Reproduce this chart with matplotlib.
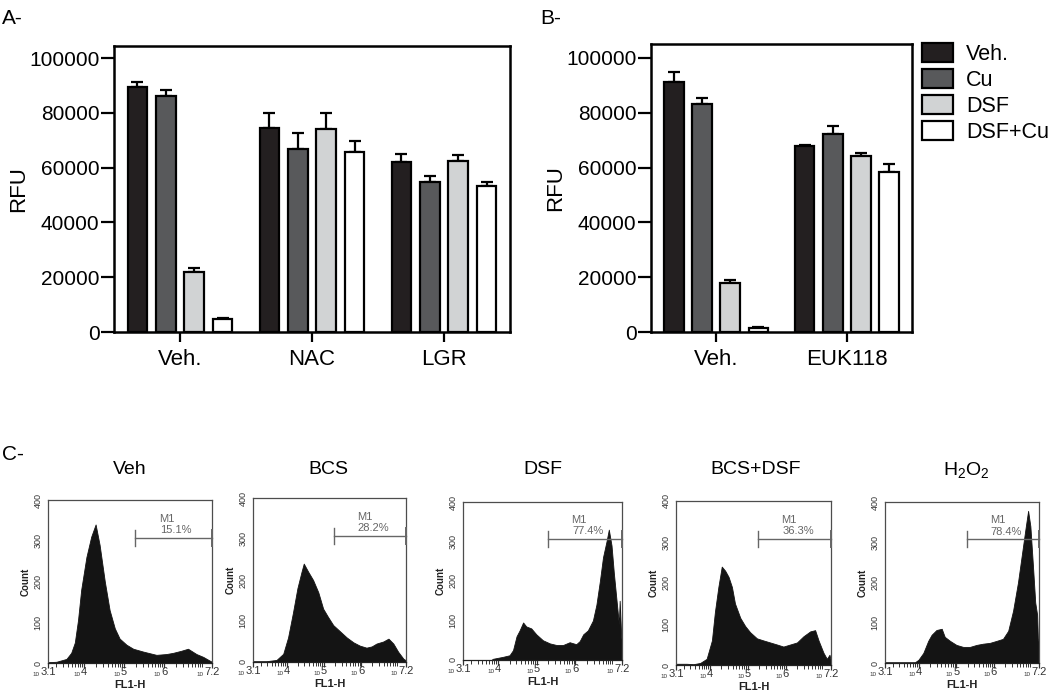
import numpy as np
import matplotlib
matplotlib.use('Agg')
import matplotlib.pyplot as plt
from matplotlib import font_manager
from matplotlib.ticker import FixedLocator, LogLocator, NullFormatter
from matplotlib.patches import Patch

# ---------------- data ----------------
series = ['Veh.', 'Cu', 'DSF', 'DSF+Cu']
bar_colors = ['#231f20', '#58595b', '#d1d3d4', '#ffffff']

a_groups = ['Veh.', 'NAC', 'LGR']
a_veh = [89500, 74300, 62200]
a_cu = [86200, 66800, 54900]
a_dsf = [22000, 74100, 62400]
a_dsfcu = [4700, 65600, 53300]
a_err_veh = [1600, 5500, 2800]
a_err_cu = [2000, 5700, 2100]
a_err_dsf = [1500, 5700, 2200]
a_err_dsfcu = [300, 4200, 1300]

b_groups = ['Veh.', 'EUK118']
b_veh = [91300, 68000]
b_cu = [83300, 72100]
b_dsf = [17800, 64200]
b_dsfcu = [1600, 58500]
b_err_veh = [3700, 400]
b_err_cu = [2200, 2900]
b_err_dsf = [1200, 1000]
b_err_dsfcu = [200, 2900]

hist_titles = ['Veh', 'BCS', 'DSF', 'BCS+DSF', r'H$_2$O$_2$']
hist_pct = ['15.1%', '28.2%', '77.4%', '36.3%', '78.4%']

h1_log = [3.10, 3.31, 3.56, 3.68, 3.77, 3.85, 3.93, 4.06, 4.18, 4.29, 4.39, 4.52, 4.64, 4.77,
          4.89, 5.06, 5.23, 5.48, 5.81, 6.06, 6.23, 6.43, 6.60, 6.81, 6.98, 7.14, 7.20]
h1_cnt = [2, 3, 10, 25, 50, 105, 180, 260, 310, 340, 290, 200, 130, 85,
          60, 45, 35, 28, 20, 22, 25, 30, 35, 22, 15, 6, 3]

h2_log = [3.10, 3.46, 3.73, 3.91, 4.04, 4.17, 4.29, 4.40, 4.46, 4.58, 4.71, 4.85, 4.98, 5.11,
          5.25, 5.43, 5.61, 5.79, 5.96, 6.14, 6.28, 6.41, 6.59, 6.73, 6.86, 6.99, 7.13, 7.20]
h2_cnt = [2, 2, 5, 20, 60, 120, 180, 220, 240, 220, 200, 170, 130, 110,
          90, 75, 60, 48, 40, 35, 38, 45, 50, 57, 45, 25, 8, 4]

h3_log = [3.10, 3.83, 3.87, 4.13, 4.30, 4.39, 4.48, 4.56, 4.65, 4.73, 4.86, 4.99, 5.16, 5.34,
          5.51, 5.68, 5.85, 6.02, 6.11, 6.20, 6.32, 6.45, 6.54, 6.63, 6.71, 6.80, 6.86, 6.93,
          6.99, 7.06, 7.12, 7.14, 7.18, 7.20]
h3_cnt = [0, 0, 3, 8, 12, 25, 60, 75, 95, 85, 80, 65, 50, 42,
          38, 38, 45, 40, 48, 65, 75, 100, 140, 200, 260, 300, 330, 290,
          220, 150, 90, 150, 60, 40]

h4_log = [3.10, 3.38, 3.56, 3.74, 3.91, 4.05, 4.13, 4.22, 4.31, 4.40, 4.49, 4.58, 4.66, 4.80,
          4.93, 5.06, 5.24, 5.41, 5.59, 5.77, 5.94, 6.12, 6.30, 6.47, 6.65, 6.78, 6.87, 7.00,
          7.09, 7.16, 7.20]
h4_cnt = [3, 3, 2, 5, 15, 60, 130, 190, 240, 230, 215, 190, 150, 115,
          95, 80, 65, 60, 55, 50, 45, 50, 55, 70, 82, 85, 60, 30,
          15, 25, 10]

h5_log = [3.10, 3.90, 3.99, 4.12, 4.25, 4.34, 4.47, 4.61, 4.69, 4.83, 5.00, 5.18, 5.36, 5.54,
          5.71, 5.89, 6.07, 6.24, 6.38, 6.51, 6.64, 6.76, 6.85, 6.91, 6.97, 7.04, 7.10, 7.15,
          7.17, 7.20]
h5_cnt = [2, 2, 8, 25, 55, 70, 82, 85, 65, 55, 45, 40, 40, 45,
          48, 50, 55, 60, 80, 130, 200, 280, 340, 378, 340, 240, 150, 120,
          60, 50]

hist_logs = [h1_log, h2_log, h3_log, h4_log, h5_log]
hist_cnts = [h1_cnt, h2_cnt, h3_cnt, h4_cnt, h5_cnt]
tick_exps = ['3.1', '4', '5', '6', '7.2']
gate_start_log = 5.28
gate_level = 307

# ---------------- fonts ----------------
avail = {f.name for f in font_manager.fontManager.ttflist}
main_font = 'Liberation Sans' if 'Liberation Sans' in avail else 'DejaVu Sans'
narrow_font = 'Liberation Sans Narrow' if 'Liberation Sans Narrow' in avail else main_font
plt.rcParams['font.family'] = [main_font, 'DejaVu Sans']
plt.rcParams['mathtext.fontset'] = 'custom'
plt.rcParams['mathtext.rm'] = main_font
plt.rcParams['mathtext.it'] = main_font
plt.rcParams['mathtext.bf'] = main_font

W, H = 1050, 691
fig = plt.figure(figsize=(W / 100, H / 100), dpi=100)


def box(l, t, r, b):
    return [l / W, 1 - b / H, (r - l) / W, (b - t) / H]


def bar_panel(ax, groups, vals, errs, ytop):
    x = np.arange(len(groups))
    width = 0.15
    step = 0.215
    for i, (v, e) in enumerate(zip(vals, errs)):
        off = (i - 1.5) * step
        ax.bar(x + off, v, width, color=bar_colors[i], edgecolor='black', linewidth=1.6, zorder=3)
        ax.errorbar(x + off, v, yerr=[np.zeros(len(v)), e], fmt='none', ecolor='black',
                    elinewidth=1.6, capsize=4.5, capthick=1.6, zorder=2)
    ax.set_xlim(-0.5, len(groups) - 0.5)
    ax.set_ylim(0, ytop)
    ax.set_yticks([0, 20000, 40000, 60000, 80000, 100000])
    ax.set_yticklabels(['0', '20000', '40000', '60000', '80000', '100000'])
    ax.set_xticks(x)
    ax.set_xticklabels(groups)
    for s in ax.spines.values():
        s.set_linewidth(1.8)
    ax.tick_params(axis='y', length=9.5, width=1.6, labelsize=15, pad=1)
    ax.tick_params(axis='x', length=7.5, width=1.6, labelsize=16, pad=5)
    ax.set_ylabel('RFU', fontsize=16, labelpad=0)


axA = fig.add_axes(box(114, 46, 510, 332))
bar_panel(axA, a_groups, [a_veh, a_cu, a_dsf, a_dsfcu],
          [a_err_veh, a_err_cu, a_err_dsf, a_err_dsfcu], 104400)
axB = fig.add_axes(box(651, 44, 912, 332))
bar_panel(axB, b_groups, [b_veh, b_cu, b_dsf, b_dsfcu],
          [b_err_veh, b_err_cu, b_err_dsf, b_err_dsfcu], 105100)

handles = [Patch(facecolor=c, edgecolor='black', linewidth=1.6) for c in bar_colors]
fig.legend(handles, series, loc='upper left', bbox_to_anchor=(922 / W, 1 - 43 / H),
           frameon=False, fontsize=15.5, handlelength=1.45, handleheight=0.95,
           handletextpad=0.6, labelspacing=0.2, borderpad=0, borderaxespad=0)

fig.text(2 / W, 1 - 19 / H, 'A-', fontsize=15, va='center', ha='left')
fig.text(540 / W, 1 - 19 / H, 'B-', fontsize=15, va='center', ha='left')
fig.text(2 / W, 1 - 455 / H, 'C-', fontsize=15, va='center', ha='left', family=[narrow_font, 'DejaVu Sans'])

# ---------------- histograms ----------------
hist_boxes = [(48, 500, 212, 663), (253, 498, 406, 662), (463, 502, 622, 660),
              (676, 501, 831, 665), (885, 502, 1039, 663)]
title_x = [130, 328, 543, 756, 966]
frame_col = '#4d4d4d'
tick_logs = [3.1, 4, 5, 6, 7.2]
char_w = {'.': 0.278}

for k in range(5):
    l, t, r, b = hist_boxes[k]
    ax = fig.add_axes(box(l, t, r, b))
    xs = 10 ** np.array(hist_logs[k])
    ax.fill_between(xs, hist_cnts[k], 0, color='#141414', linewidth=0.6, edgecolor='#141414')
    ax.set_xscale('log')
    ax.set_xlim(10 ** 3.1, 10 ** 7.2)
    ax.set_ylim(0, 400)
    ax.xaxis.set_major_locator(FixedLocator([10 ** v for v in tick_logs]))
    ax.xaxis.set_major_formatter(NullFormatter())
    ax.xaxis.set_minor_locator(LogLocator(base=10, subs=np.arange(2, 10), numticks=60))
    ax.xaxis.set_minor_formatter(NullFormatter())
    ax.set_yticks([0, 100, 200, 300, 400])
    ax.set_yticklabels(['0', '100', '200', '300', '400'], rotation=90, va='center')
    ax.tick_params(axis='y', length=0, labelsize=6.5, pad=4, colors='#333333')
    ax.tick_params(axis='x', which='major', length=3.5, width=0.9, colors='#333333')
    ax.tick_params(axis='x', which='minor', length=3, width=0.7, colors='#333333')
    for s in ax.spines.values():
        s.set_linewidth(0.9)
        s.set_color(frame_col)
    ax.spines['bottom'].set_color('#222222')
    ax.set_ylabel('Count', fontsize=7, fontweight='bold', labelpad=2, color='#222222')
    # x tick labels: small "10" followed by the exponent
    for lv, ex in zip(tick_logs, tick_exps):
        fs = 8
        w = sum(char_w.get(c, 0.556) for c in ex) * fs
        ax.annotate(ex, xy=(10 ** lv, 0), xycoords=('data', 'axes fraction'),
                    xytext=(0, -3), textcoords='offset points', ha='center', va='top',
                    fontsize=fs, color='#333333', annotation_clip=False)
        ax.annotate('10', xy=(10 ** lv, 0), xycoords=('data', 'axes fraction'),
                    xytext=(-w / 2 - 0.3, -6.3), textcoords='offset points', ha='right', va='top',
                    fontsize=4.5, color='#333333', annotation_clip=False)
    ax.annotate('FL1-H', xy=(0.5, 0), xycoords='axes fraction', xytext=(0, -12),
                textcoords='offset points', ha='center', va='top', fontsize=8,
                fontweight='bold', color='#222222', annotation_clip=False)
    # gate marker
    g0, g1 = 10 ** gate_start_log, 10 ** 7.2
    ax.plot([g0, g1], [gate_level, gate_level], color='#666666', lw=1.0, clip_on=False, zorder=4)
    ax.plot([g0, g0], [gate_level - 20, gate_level + 20], color='#666666', lw=1.0, clip_on=False, zorder=4)
    ax.plot([g1, g1], [gate_level - 20, gate_level + 20], color='#666666', lw=1.4, clip_on=False, zorder=4)
    ax.text(10 ** 5.89, 347, 'M1', fontsize=8, color='#666666', ha='left', va='baseline',
            family=[narrow_font, 'DejaVu Sans'])
    ax.text(10 ** 5.91, 319, hist_pct[k], fontsize=8, color='#666666', ha='left', va='baseline',
            family=[narrow_font, 'DejaVu Sans'])
    fig.text(title_x[k] / W, 1 - 470 / H, hist_titles[k], fontsize=14, ha='center', va='center',
             family=[narrow_font, 'DejaVu Sans'])

fig.savefig('out.png', dpi=100)
